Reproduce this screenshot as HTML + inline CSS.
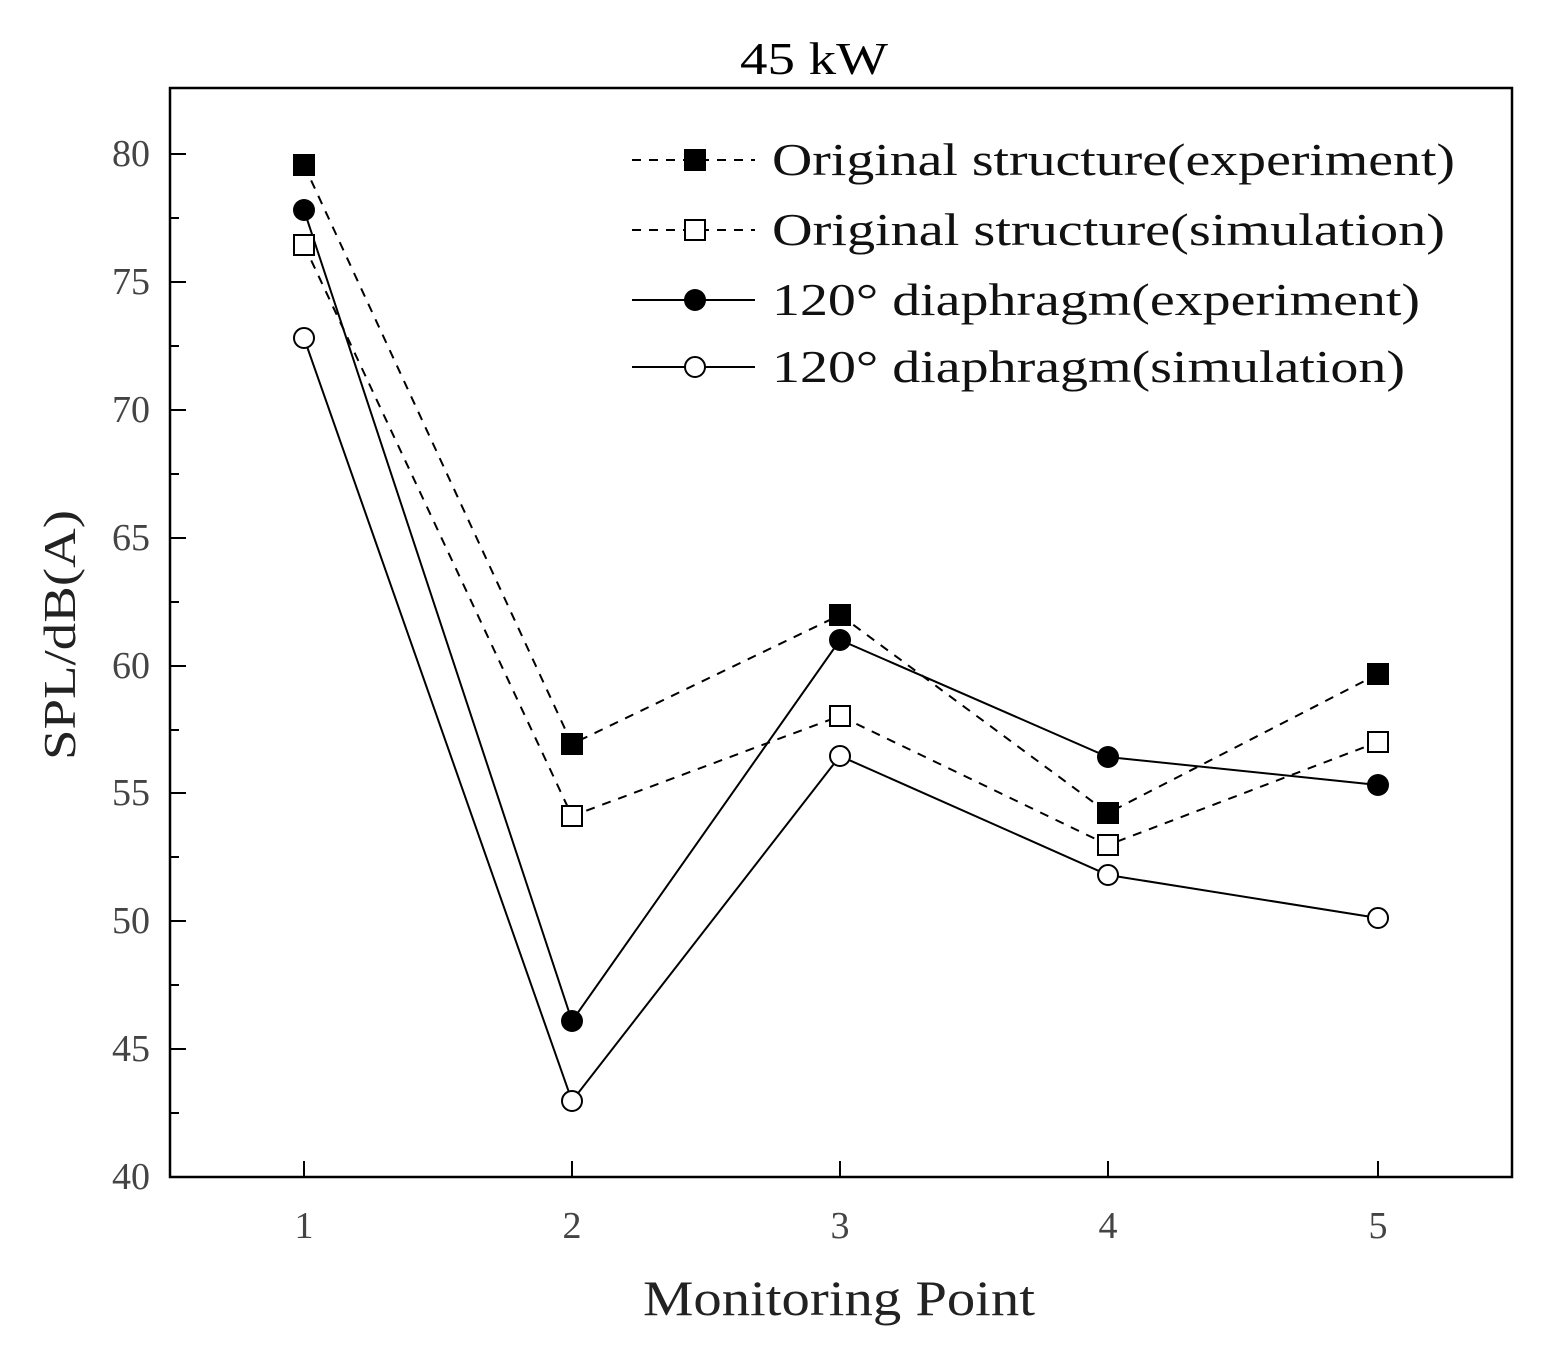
<!DOCTYPE html>
<html><head><style>body{margin:0;background:#fff}</style></head><body>
<svg width="1545" height="1359" xmlns="http://www.w3.org/2000/svg" font-family="Liberation Serif, serif">
<rect width="1545" height="1359" fill="#fff"/>
<rect x="170" y="88" width="1342" height="1089" fill="none" stroke="#000" stroke-width="2.5"/>
<text x="740" y="74" font-size="46" textLength="148" lengthAdjust="spacingAndGlyphs">45 kW</text>
<g stroke="#000" stroke-width="2">
<line x1="170" y1="154" x2="186" y2="154"/><line x1="170" y1="282" x2="186" y2="282"/><line x1="170" y1="410" x2="186" y2="410"/><line x1="170" y1="538" x2="186" y2="538"/><line x1="170" y1="666" x2="186" y2="666"/><line x1="170" y1="793" x2="186" y2="793"/><line x1="170" y1="921" x2="186" y2="921"/><line x1="170" y1="1049" x2="186" y2="1049"/>
<line x1="170" y1="218" x2="179" y2="218"/><line x1="170" y1="346" x2="179" y2="346"/><line x1="170" y1="474" x2="179" y2="474"/><line x1="170" y1="602" x2="179" y2="602"/><line x1="170" y1="730" x2="179" y2="730"/><line x1="170" y1="857" x2="179" y2="857"/><line x1="170" y1="985" x2="179" y2="985"/><line x1="170" y1="1113" x2="179" y2="1113"/>
<line x1="304" y1="1177" x2="304" y2="1161"/><line x1="572" y1="1177" x2="572" y2="1161"/><line x1="840" y1="1177" x2="840" y2="1161"/><line x1="1108" y1="1177" x2="1108" y2="1161"/><line x1="1378" y1="1177" x2="1378" y2="1161"/>
</g>
<g font-size="38" fill="#444" text-anchor="end">
<text x="150" y="166">80</text><text x="150" y="294">75</text><text x="150" y="422">70</text><text x="150" y="550">65</text><text x="150" y="678">60</text><text x="150" y="805">55</text><text x="150" y="933">50</text><text x="150" y="1061">45</text><text x="150" y="1189">40</text>
</g>
<g font-size="38" fill="#444" text-anchor="middle">
<text x="304" y="1238">1</text><text x="572" y="1238">2</text><text x="840" y="1238">3</text><text x="1108" y="1238">4</text><text x="1378" y="1238">5</text>
</g>
<text x="643" y="1315" font-size="50" fill="#222" textLength="392" lengthAdjust="spacingAndGlyphs">Monitoring Point</text>
<text transform="translate(75,760) rotate(-90)" font-size="46" fill="#222" textLength="250" lengthAdjust="spacingAndGlyphs">SPL/dB(A)</text>
<g fill="none" stroke="#000" stroke-width="2">
<polyline stroke-dasharray="9,8" points="304,165 572,744 840,615 1108,813 1378,674"/>
<polyline stroke-dasharray="9,8" points="304,245 572,816 840,716 1108,845 1378,742"/>
<polyline points="304,210 572,1021 840,640 1108,757 1378,785"/>
<polyline points="304,338 572,1101 840,756 1108,875 1378,918"/>
</g>
<g fill="#000">
<rect x="293" y="154" width="22" height="22"/><rect x="561" y="733" width="22" height="22"/><rect x="829" y="604" width="22" height="22"/><rect x="1097" y="802" width="22" height="22"/><rect x="1367" y="663" width="22" height="22"/>
<circle cx="304" cy="210" r="11"/><circle cx="572" cy="1021" r="11"/><circle cx="840" cy="640" r="11"/><circle cx="1108" cy="757" r="11"/><circle cx="1378" cy="785" r="11"/>
</g>
<g fill="#fff" stroke="#000" stroke-width="2">
<rect x="294" y="235" width="20" height="20"/><rect x="562" y="806" width="20" height="20"/><rect x="830" y="706" width="20" height="20"/><rect x="1098" y="835" width="20" height="20"/><rect x="1368" y="732" width="20" height="20"/>
<circle cx="304" cy="338" r="10"/><circle cx="572" cy="1101" r="10"/><circle cx="840" cy="756" r="10"/><circle cx="1108" cy="875" r="10"/><circle cx="1378" cy="918" r="10"/>
</g>
<g stroke="#000" stroke-width="2" fill="none">
<line x1="632" y1="160" x2="755" y2="160" stroke-dasharray="9,8"/>
<line x1="632" y1="230" x2="755" y2="230" stroke-dasharray="9,8"/>
<line x1="632" y1="300" x2="755" y2="300"/>
<line x1="632" y1="367" x2="755" y2="367"/>
</g>
<rect x="684" y="149" width="22" height="22" fill="#000"/>
<rect x="685" y="220" width="20" height="20" fill="#fff" stroke="#000" stroke-width="2"/>
<circle cx="695" cy="300" r="11" fill="#000"/>
<circle cx="695" cy="367" r="10" fill="#fff" stroke="#000" stroke-width="2"/>
<g font-size="46" fill="#111" lengthAdjust="spacingAndGlyphs">
<text x="772" y="175" textLength="683" lengthAdjust="spacingAndGlyphs">Original structure(experiment)</text>
<text x="772" y="245" textLength="673" lengthAdjust="spacingAndGlyphs">Original structure(simulation)</text>
<text x="772" y="315" textLength="648" lengthAdjust="spacingAndGlyphs">120° diaphragm(experiment)</text>
<text x="772" y="382" textLength="633" lengthAdjust="spacingAndGlyphs">120° diaphragm(simulation)</text>
</g>
</svg>
</body></html>
